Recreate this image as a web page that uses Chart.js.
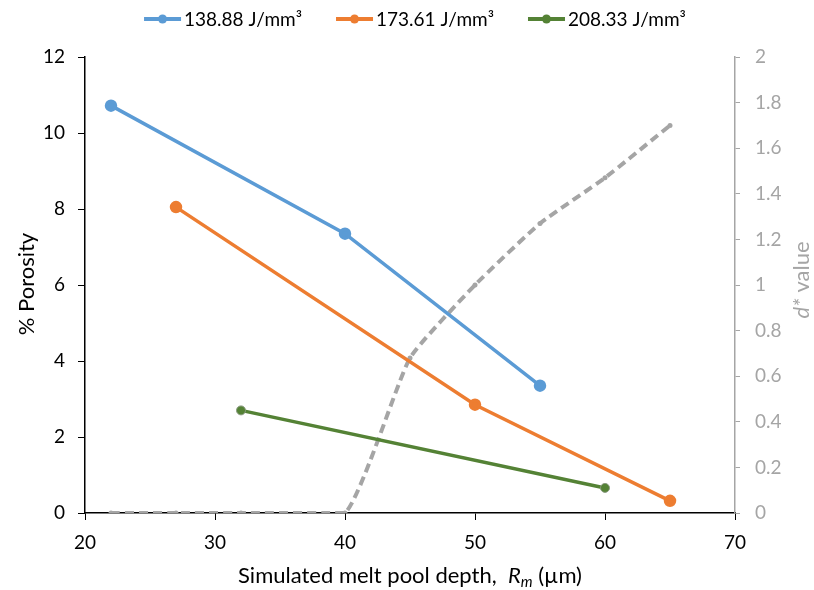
<!DOCTYPE html>
<html><head><meta charset="utf-8">
<script src="https://cdn.jsdelivr.net/npm/chart.js@4.4.1/dist/chart.umd.min.js"></script>
<style>html,body{margin:0;padding:0;background:#fff;}#wrap{width:814px;height:590px;position:relative;}</style>
</head><body><div id="wrap"><canvas id="c" width="814" height="590"></canvas></div>
<script>
// ---- data ----
const xTicks = [20, 30, 40, 50, 60, 70];
const seriesLabels = ['138.88 J/mm³', '173.61 J/mm³', '208.33 J/mm³'];
const blueX = [22, 40, 55];
const blueY = [10.72, 7.35, 3.35];
const orangeX = [27, 50, 65];
const orangeY = [8.05, 2.85, 0.32];
const greenX = [32, 60];
const greenY = [2.7, 0.66];
const dX = [22, 27, 32, 40, 45, 50, 55, 60, 65];
const dY = [0, 0, 0, 0, 0.68, 1.0, 1.27, 1.47, 1.70];

const FONT = 'Lato, "Open Sans", sans-serif';
const zip = (xs, ys) => xs.map((x, i) => ({x, y: ys[i]}));

const colors = ['#5B9BD5', '#ED7D31', '#548235'];
const gray = '#A5A5A5';

const titlesPlugin = {
  id: 'titles',
  afterDraw(chart) {
    const ctx = chart.ctx;
    ctx.save();
    // left title
    ctx.fillStyle = '#000';
    ctx.font = '22px ' + FONT;
    ctx.textAlign = 'center'; ctx.textBaseline = 'middle';
    ctx.save(); ctx.translate(27, 284); ctx.rotate(-Math.PI / 2); ctx.fillText('% Porosity', 0, 0); ctx.restore();
    // right title
    ctx.save(); ctx.translate(802, 280); ctx.rotate(-Math.PI / 2);
    ctx.fillStyle = gray;
    const p1 = 'd*', p2 = ' value';
    ctx.font = 'italic 22px ' + FONT; const w1 = ctx.measureText(p1).width;
    ctx.font = '22px ' + FONT; const w2 = ctx.measureText(p2).width;
    ctx.textAlign = 'left';
    let sx = -(w1 + w2) / 2;
    ctx.font = 'italic 22px ' + FONT; ctx.fillText(p1, sx, 0);
    ctx.font = '22px ' + FONT; ctx.fillText(p2, sx + w1, 0);
    ctx.restore();
    // x title
    const parts = [
      {t: 'Simulated melt pool depth,  ', f: '22px ' + FONT, dy: 0},
      {t: 'R', f: 'italic 22px ' + FONT, dy: 0},
      {t: 'm', f: 'italic 15px ' + FONT, dy: 6},
      {t: ' (µm)', f: '22px ' + FONT, dy: 0}
    ];
    let tot = 0;
    parts.forEach(p => { ctx.font = p.f; p.w = ctx.measureText(p.t).width; tot += p.w; });
    let x = 410 - tot / 2;
    ctx.fillStyle = '#000'; ctx.textAlign = 'left'; ctx.textBaseline = 'middle';
    parts.forEach(p => { ctx.font = p.f; ctx.fillText(p.t, x, 576 + p.dy); x += p.w; });
    // legend
    ctx.font = '19px ' + FONT;
    const lineW = 37, txtGap = 3, itemGap = 34;
    const dsl = chart.data.datasets.slice(0, 3);
    let total = 0;
    dsl.forEach((ds, i) => { total += lineW + txtGap + ctx.measureText(ds.label).width + (i < 2 ? itemGap : 0); });
    let lx = 415 - total / 2; const ly = 19;
    dsl.forEach((ds, i) => {
      ctx.strokeStyle = ds.borderColor; ctx.lineWidth = 4;
      ctx.beginPath(); ctx.moveTo(lx, ly); ctx.lineTo(lx + lineW, ly); ctx.stroke();
      ctx.fillStyle = ds.backgroundColor;
      ctx.beginPath(); ctx.arc(lx + lineW / 2, ly, 4.5, 0, Math.PI * 2); ctx.fill();
      ctx.fillStyle = '#000'; ctx.textAlign = 'left';
      ctx.fillText(ds.label, lx + lineW + txtGap, ly + 1);
      lx += lineW + txtGap + ctx.measureText(ds.label).width + itemGap;
    });
    ctx.restore();
  }
};

new Chart(document.getElementById('c'), {
  type: 'line',
  data: {
    datasets: [
      {label: seriesLabels[0], data: zip(blueX, blueY), borderColor: colors[0], backgroundColor: colors[0], borderWidth: 3.5, pointRadius: 4.5, pointHoverRadius: 4.5, yAxisID: 'y'},
      {label: seriesLabels[1], data: zip(orangeX, orangeY), borderColor: colors[1], backgroundColor: colors[1], borderWidth: 3.5, pointRadius: 4.5, pointHoverRadius: 4.5, yAxisID: 'y'},
      {label: seriesLabels[2], data: zip(greenX, greenY), borderColor: colors[2], backgroundColor: colors[2], pointBorderColor: '#8a9a80', pointBorderWidth: 1, borderWidth: 3.5, pointRadius: 4.5, pointHoverRadius: 4.5, yAxisID: 'y'},
      {label: 'd*', data: zip(dX, dY), borderColor: gray, backgroundColor: gray, borderWidth: 4, borderDash: [9, 5], pointRadius: 2.5, pointBorderWidth: 0, tension: 0.15, yAxisID: 'y2'}
    ]
  },
  options: {
    responsive: false, animation: false, devicePixelRatio: 1,
    layout: {padding: {top: 57, left: 0, right: 0, bottom: 0}},
    plugins: {legend: {display: false}, tooltip: {enabled: false}},
    scales: {
      x: {
        type: 'linear', min: 20, max: 70,
        afterBuildTicks: s => { s.ticks = xTicks.map(v => ({value: v})); },
        grid: {drawOnChartArea: false, drawTicks: true, tickLength: 7, color: '#000'},
        border: {color: '#000', width: 1.5},
        ticks: {font: {family: FONT, size: 19}, color: '#000', padding: 11},
        afterFit: s => { s.height = 77; }
      },
      y: {
        position: 'left', min: 0, max: 12,
        ticks: {stepSize: 2, font: {family: FONT, size: 19}, color: '#000', padding: 13},
        grid: {drawOnChartArea: false, drawTicks: true, tickLength: 7, color: '#000'},
        border: {color: '#000', width: 1.5},
        afterFit: s => { s.width = 85; }
      },
      y2: {
        position: 'right', min: 0, max: 2,
        ticks: {stepSize: 0.2, font: {family: FONT, size: 19}, color: gray, padding: 15,
          callback: v => String(Math.round(v * 10) / 10)},
        grid: {drawOnChartArea: false, drawTicks: true, tickLength: 5, color: gray},
        border: {color: gray, width: 1.5, dash: [5, 4]},
        afterFit: s => { s.width = 79; }
      }
    }
  },
  plugins: [titlesPlugin]
});
</script></body></html>
